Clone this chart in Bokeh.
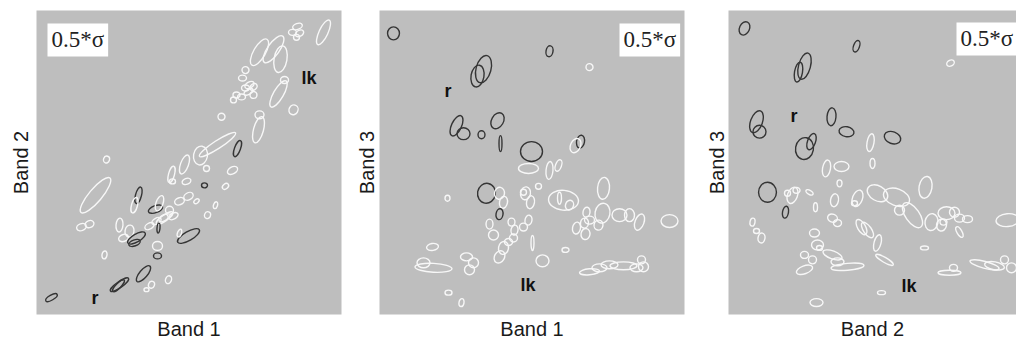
from bokeh.plotting import figure
from bokeh.layouts import row
from bokeh.models import Range1d, Label, FixedTicker, ColumnDataSource
from bokeh.embed import file_html
from bokeh.resources import INLINE

# ---------------- data (band-space units) ----------------
# Panel 1: Band 1 (x) vs Band 2 (y)
p1_x = [287, 261, 263, 256, 260, 223, 237, 244, 209, 206,
        213, 209, 217, 200, 205, 217, 197, 212, 242, 248,
        257, 185, 223, 222, 181, 164, 201, 70, 148, 135,
        136, 170, 196, 150, 168, 189, 59, 102, 98, 119,
        123, 133, 143, 152, 160, 128, 137, 171, 179, 45,
        53, 83, 93, 87, 100, 98, 113, 120, 127, 122,
        121, 121, 152, 143, 68, 107, 83, 82, 115, 110,
        132, 15]
p1_y = [284, 290, 283, 284, 279, 264, 267, 257, 246, 238,
        231, 228, 229, 221, 219, 221, 216, 224, 222, 236,
        206, 199, 201, 186, 171, 160, 167, 156, 151, 141,
        134, 147, 145, 134, 130, 129, 120, 120, 110, 106,
        112, 105, 114, 119, 114, 97, 99, 100, 110, 88,
        91, 90, 84, 77, 77, 72, 89, 94, 97, 87,
        69, 59, 79, 82, 60, 41, 30, 29, 30, 25,
        35, 17]
p1_w = [27, 10, 9, 8, 6, 30, 32, 27, 7, 8,
        10, 8, 8, 7, 8, 7, 6, 10, 30, 8,
        10, 7, 9, 27, 43, 19, 17, 7, 20, 17,
        6, 6, 11, 9, 6, 7, 45, 17, 16, 15,
        16, 8, 10, 10, 6, 20, 10, 7, 7, 10,
        9, 14, 12, 10, 20, 12, 10, 10, 10, 10,
        10, 8, 25, 8, 8, 20, 22, 16, 7, 5,
        8, 13]
p1_h = [9, 6, 6, 6, 6, 12, 12, 13, 7, 6,
        6, 6, 6, 6, 6, 7, 6, 5, 10, 7,
        9, 7, 8, 10, 8, 14, 6, 6, 8, 6,
        5, 6, 7, 6, 5, 5, 13, 6, 6, 7,
        7, 8, 7, 7, 4, 6, 6, 6, 4, 7,
        7, 7, 9, 7, 8, 6, 6, 6, 6, 3,
        9, 6, 9, 4, 5, 8, 6, 5, 6, 4,
        6, 5]
p1_a = [65, 20, 30, 0, 0, 60, 55, 80, 0, 0,
        30, 0, 40, 0, 0, 0, 0, 30, 60, 0,
        60, 0, 0, 75, 33, 80, 70, 70, 70, 75,
        0, 0, 30, 20, 0, 40, 50, 75, 75, 20,
        70, 0, 20, 30, 40, 35, 30, 70, 70, 20,
        20, 85, 80, 20, 30, 20, 30, 30, 30, 85,
        0, 0, 30, 70, 80, 50, 35, 45, 70, 0,
        70, 30]
p1_t = ["w", "w", "w", "w", "w", "w", "w", "w", "w", "w",
        "w", "w", "w", "w", "w", "w", "w", "w", "w", "w",
        "w", "w", "w", "w", "w", "w", "d", "w", "w", "w",
        "w", "w", "w", "w", "d", "w", "w", "d", "w", "d",
        "w", "w", "w", "w", "w", "w", "w", "w", "w", "w",
        "w", "w", "w", "w", "d", "d", "w", "w", "w", "d",
        "w", "d", "d", "w", "w", "d", "d", "d", "w", "w",
        "w", "d"]

# Panel 2: Band 1 (x) vs Band 3 (y)
p2_x = [14, 170, 210, 104, 98, 77, 84, 102, 118, 121,
        152, 201, 196, 149, 170, 179, 159, 107, 120, 124,
        120, 68, 146, 151, 144, 184, 180, 190, 224, 223,
        240, 250, 260, 290, 197, 205, 210, 206, 207, 219,
        110, 114, 132, 135, 144, 149, 134, 124, 120, 129,
        153, 53, 186, 163, 54, 44, 87, 94, 90, 69,
        82, 210, 220, 230, 244, 257, 262, 264]
p2_y = [283, 265, 249, 247, 240, 190, 182, 181, 195, 172,
        164, 174, 170, 147, 145, 150, 129, 122, 122, 113,
        101, 117, 122, 113, 123, 115, 117, 110, 127, 102,
        100, 100, 93, 94, 87, 92, 95, 81, 103, 90,
        91, 80, 93, 85, 88, 95, 77, 67, 58, 73,
        72, 68, 65, 54, 47, 52, 58, 52, 45, 22,
        12, 43, 47, 50, 49, 47, 55, 48]
p2_w = [13, 11, 7, 28, 22, 22, 13, 8, 17, 16,
        22, 13, 15, 20, 18, 12, 6, 20, 12, 12,
        11, 6, 13, 13, 6, 30, 12, 10, 22, 20,
        15, 13, 17, 17, 12, 10, 10, 11, 10, 10,
        10, 10, 8, 10, 8, 10, 8, 13, 13, 8,
        15, 12, 7, 13, 37, 13, 12, 10, 10, 7,
        8, 20, 15, 17, 27, 13, 8, 10]
p2_h = [12, 7, 7, 15, 13, 10, 12, 7, 12, 3,
        20, 8, 10, 10, 7, 6, 6, 18, 10, 8,
        7, 5, 10, 8, 6, 20, 4, 8, 12, 15,
        13, 10, 9, 13, 8, 8, 8, 9, 7, 9,
        7, 10, 7, 7, 8, 7, 8, 10, 10, 7,
        3, 7, 5, 12, 9, 10, 8, 10, 10, 5,
        5, 6, 8, 8, 8, 8, 8, 10]
p2_a = [90, 80, 0, 75, 80, 65, 0, 90, 60, 90,
        0, 80, 65, 0, 85, 70, 0, 80, 80, 80,
        80, 90, 80, 80, 0, -5, 90, 70, 85, 80,
        0, 90, 70, 0, 80, 80, 0, 80, 80, 80,
        90, 0, 90, 80, 0, 80, 0, 80, 60, 0,
        90, 10, 0, 0, -3, 0, 0, 0, 0, 0,
        80, 5, 0, 0, 0, 0, 0, 0]
p2_t = ["d", "d", "w", "d", "d", "d", "d", "d", "d", "d",
        "d", "d", "w", "w", "w", "w", "w", "d", "w", "w",
        "d", "w", "w", "w", "w", "w", "w", "w", "w", "w",
        "w", "w", "w", "w", "w", "w", "w", "w", "w", "w",
        "w", "w", "w", "w", "w", "w", "w", "w", "w", "w",
        "w", "w", "w", "w", "w", "w", "w", "w", "w", "w",
        "w", "w", "w", "w", "w", "w", "w", "w"]

# Panel 3: Band 2 (x) vs Band 3 (y)
p3_x = [16, 128, 222, 76, 70, 28, 31, 103, 118, 164,
        76, 83, 142, 98, 113, 144, 39, 57, 64, 59,
        68, 81, 111, 87, 106, 129, 126, 149, 168, 171,
        184, 197, 203, 213, 218, 226, 231, 239, 231, 215,
        279, 24, 28, 33, 104, 109, 133, 139, 149, 86,
        89, 91, 104, 76, 84, 76, 119, 109, 156, 196,
        221, 225, 256, 266, 276, 283, 153, 88]
p3_y = [288, 270, 253, 250, 244, 194, 184, 199, 184, 178,
        167, 174, 173, 147, 149, 152, 123, 103, 120, 122,
        125, 123, 132, 108, 115, 117, 112, 122, 118, 105,
        100, 128, 93, 90, 102, 103, 97, 96, 83, 93,
        95, 93, 84, 77, 97, 92, 88, 85, 72, 82,
        70, 67, 60, 60, 55, 45, 48, 53, 55, 67,
        42, 47, 50, 49, 55, 47, 22, 12]
p3_w = [14, 12, 8, 27, 20, 23, 13, 18, 15, 17,
        22, 17, 18, 17, 15, 10, 20, 12, 17, 6,
        7, 8, 7, 9, 13, 17, 6, 22, 27, 10,
        29, 22, 17, 12, 17, 10, 10, 10, 12, 7,
        23, 8, 6, 10, 10, 8, 17, 18, 17, 10,
        12, 6, 20, 8, 8, 17, 33, 13, 20, 8,
        23, 8, 30, 20, 8, 10, 8, 13]
p3_h = [10, 6, 6, 12, 8, 12, 13, 9, 10, 12,
        18, 8, 7, 8, 10, 5, 18, 6, 10, 6,
        6, 4, 5, 4, 8, 10, 5, 15, 17, 10,
        14, 13, 13, 10, 13, 10, 8, 7, 5, 6,
        13, 5, 5, 7, 8, 7, 8, 8, 7, 8,
        10, 5, 8, 7, 8, 8, 7, 8, 5, 4,
        5, 7, 7, 8, 8, 10, 4, 8]
p3_a = [65, 70, 30, 75, 80, 70, 0, 85, -10, -20,
        80, 70, 80, 80, 0, 90, 90, 80, 70, 0,
        0, -30, 90, 90, 80, 70, 0, -30, -20, 0,
        -55, 80, 80, 80, 0, 0, 0, 0, -60, 0,
        5, 80, 0, 80, -20, 0, -60, -55, 75, 0,
        0, 0, -20, 0, 0, 20, 5, 0, -30, 0,
        0, 0, -15, -10, 0, 0, 0, 0]
p3_t = ["d", "d", "w", "d", "d", "d", "d", "d", "d", "d",
        "d", "d", "w", "w", "w", "w", "d", "d", "w", "w",
        "w", "w", "w", "w", "w", "w", "w", "w", "w", "w",
        "w", "w", "w", "w", "w", "w", "w", "w", "w", "w",
        "w", "w", "w", "w", "w", "w", "w", "w", "w", "w",
        "w", "w", "w", "w", "w", "w", "w", "w", "w", "w",
        "w", "w", "w", "w", "w", "w", "w", "w"]

sigma_text = "0.5*\u03c3"
x_labels = ["Band 1", "Band 1", "Band 2"]
y_labels = ["Band 2", "Band 3", "Band 3"]

# ---------------- styling ----------------
BG = "#bebebe"
TONE = {"w": "#f7f7f7", "d": "#353535"}
H = 342
TOP = 10
BOTTOM = 26


def panel(xs, ys, ws, hs, angs, tones, xr, yr, width, bl, br, xlab, ylab, ystand):
    p = figure(width=width, height=H, x_range=Range1d(*xr), y_range=Range1d(*yr),
               output_backend="svg", toolbar_location=None,
               min_border_left=bl, min_border_right=br,
               min_border_top=TOP, min_border_bottom=BOTTOM)
    p.background_fill_color = BG
    p.border_fill_color = "white"
    p.outline_line_color = None
    p.grid.visible = False
    for ax in (p.xaxis[0], p.yaxis[0]):
        ax.ticker = FixedTicker(ticks=[])
        ax.major_tick_out = 0
        ax.major_tick_in = 0
        ax.minor_tick_out = 0
        ax.minor_tick_in = 0
        ax.major_label_standoff = 0
        ax.major_label_text_font_size = "0px"
        ax.axis_line_color = None
        ax.axis_label_text_font = "Liberation Sans"
        ax.axis_label_text_font_size = "20px"
        ax.axis_label_text_font_style = "normal"
        ax.axis_label_text_color = "#1a1a1a"
    p.xaxis[0].axis_label = xlab
    p.xaxis[0].axis_label_standoff = 3
    p.yaxis[0].axis_label = ylab
    p.yaxis[0].axis_label_standoff = ystand

    src = ColumnDataSource(dict(x=xs, y=ys, w=ws, h=hs, a=angs,
                                col=[TONE[t] for t in tones]))
    p.ellipse(x="x", y="y", width="w", height="h", angle="a", angle_units="deg",
              source=src, fill_color=None, line_color="col", line_width=1.4)
    return p


def add_text(p, x, y, txt, size="18px"):
    p.add_layout(Label(x=x, y=y, text=txt, text_font="Liberation Sans",
                       text_font_size=size, text_font_style="bold",
                       text_color="#111111", text_align="left",
                       text_baseline="alphabetic"))


def add_sigma(p, x, y):
    # x, y: top-left corner of the white box; padding sits outside the anchor
    p.add_layout(Label(x=x + 4, y=y - 4, text=sigma_text, text_font="Liberation Serif",
                       text_font_size="23px", text_color="#222222",
                       anchor="top_left", padding=4,
                       background_fill_color="white"))


# canvas widths: 351 + 347 + 318 = 1016
p1 = panel(p1_x, p1_y, p1_w, p1_h, p1_a, p1_t, (0, 305), (0, 306), 351, 36, 10,
           x_labels[0], y_labels[0], 5)
add_sigma(p1, 7, 297)
add_text(p1, 55, 17, "r")
add_text(p1, 265, 238, "lk")

p2 = panel(p2_x, p2_y, p2_w, p2_h, p2_a, p2_t, (0, 305), (0, 306), 347, 28, 14,
           x_labels[1], y_labels[1], 2)
add_sigma(p2, 236, 297)
add_text(p2, 65, 225, "r")
add_text(p2, 141, 30, "lk")

p3 = panel(p3_x, p3_y, p3_w, p3_h, p3_a, p3_t, (0, 288), (0, 306), 318, 30, 0,
           x_labels[2], y_labels[2], 1)
add_sigma(p3, 224, 298)
add_text(p3, 62, 200, "r")
add_text(p3, 173, 29, "lk")

layout = row(p1, p2, p3)
open("out.html", "w").write(file_html(layout, INLINE))
